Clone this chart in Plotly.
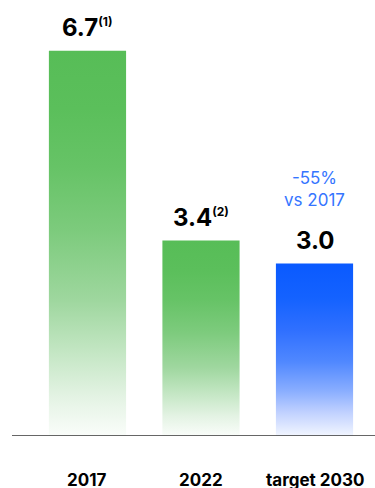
import plotly.graph_objects as go

# Emissions values per period
categories = ["2017", "2022", "target 2030"]
values = [6.7, 3.4, 3.0]
value_notes = ["(1)", "(2)", ""]
change_note = "-55%<br>vs 2017"

GREEN_SCALE = [[0, "#fafdfa"], [0.1, "#e4f3e4"], [0.22, "#c3e6c3"], [0.35, "#9fd79f"],
               [0.53, "#7dcb7d"], [0.7, "#66c366"], [0.85, "#5bbf5b"], [1, "#57bd57"]]
BLUE_SCALE = [[0, "#f2f6ff"], [0.14, "#bfd0ff"], [0.26, "#8aaeff"], [0.43, "#5088ff"],
              [0.61, "#3070ff"], [0.8, "#1462ff"], [1, "#0a5aff"]]
scales = [GREEN_SCALE, GREEN_SCALE, BLUE_SCALE]

BAR_W = 0.68
FONT = "Inter"

fig = go.Figure()

# Each bar is a filled rectangle with a vertical gradient from the baseline to its value
for i, (v, cs) in enumerate(zip(values, scales)):
    x0, x1 = i - BAR_W / 2, i + BAR_W / 2
    fig.add_trace(go.Scatter(
        x=[x0, x1, x1, x0, x0],
        y=[0, 0, v, v, 0],
        mode="lines",
        line=dict(width=0),
        fill="toself",
        fillgradient=dict(type="vertical", colorscale=cs, start=0, stop=v),
        hoverinfo="skip",
        showlegend=False,
    ))

annotations = []
for i, (v, note) in enumerate(zip(values, value_notes)):
    txt = f"{v:.1f}"
    if note:
        txt += f"<sup><span style='font-size:12px'>{note}</span></sup>"
    annotations.append(dict(
        x=i, y=v, xref="x", yref="y", text=txt, showarrow=False,
        yanchor="bottom", yshift=7,
        font=dict(family=FONT, size=24, color="#000000", weight="bold"),
    ))
    annotations.append(dict(
        x=i, y=0, xref="x", yref="paper", text=categories[i], showarrow=False,
        yanchor="middle", yshift=-44,
        font=dict(family=FONT, size=17, color="#000000", weight="bold"),
    ))

annotations.append(dict(
    x=2, y=values[2], xref="x", yref="y", text=change_note, showarrow=False,
    yanchor="bottom", yshift=52,
    font=dict(family=FONT, size=17, color="#3575ff"),
))

fig.update_layout(
    width=375, height=488,
    margin=dict(l=12, r=0, t=0, b=52),
    paper_bgcolor="white", plot_bgcolor="white",
    xaxis=dict(range=[-0.665, 2.533], showgrid=False, zeroline=False,
               showticklabels=False, ticks="", fixedrange=True),
    yaxis=dict(range=[0, 7.583], showgrid=False, zeroline=False,
               showticklabels=False, ticks="", fixedrange=True),
    shapes=[dict(type="line", xref="paper", yref="y", x0=0, x1=1, y0=0, y1=0,
                 line=dict(color="#333333", width=1.6))],
    annotations=annotations,
)

fig.write_html("out.html", config={"displayModeBar": False})
